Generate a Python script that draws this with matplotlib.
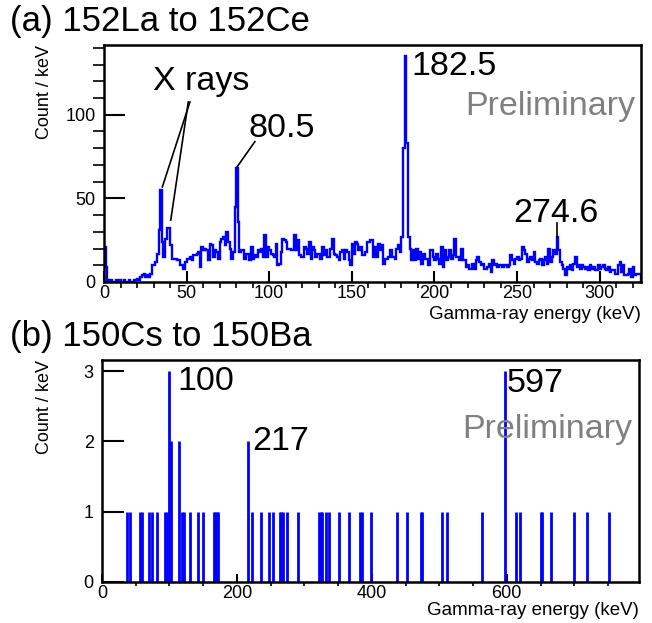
import numpy as np
import matplotlib
matplotlib.use("Agg")
import matplotlib.pyplot as plt
from matplotlib.ticker import MultipleLocator

plt.rcParams["font.family"] = ["Liberation Sans", "DejaVu Sans"]

# (a) 152La -> 152Ce, counts per 1 keV bin starting at 0 keV
bin_width_a = 1.0
counts_a = [
    21, 9, 1, 0, 1, 0, 0, 1, 0, 1, 0, 0, 1, 0, 0, 1, 0, 0, 1, 1,
    2, 1, 3, 4, 5, 3, 4, 3, 5, 10, 10, 12, 17, 31, 55, 24, 15, 26, 32, 32,
    22, 14, 14, 14, 13, 13, 10, 10, 8, 12, 14, 14, 15, 13, 16, 16, 17, 18, 9, 21,
    19, 20, 19, 13, 23, 22, 15, 19, 18, 14, 24, 26, 27, 22, 30, 24, 20, 14, 18, 45,
    68, 36, 18, 19, 19, 14, 17, 17, 13, 21, 14, 16, 15, 19, 18, 20, 15, 28, 15, 21,
    19, 17, 16, 15, 23, 10, 11, 18, 26, 25, 24, 20, 20, 19, 19, 28, 19, 25, 16, 15,
    15, 21, 20, 17, 24, 14, 21, 19, 15, 17, 17, 14, 21, 16, 19, 15, 15, 20, 26, 17,
    16, 15, 13, 18, 19, 14, 19, 18, 13, 10, 23, 17, 24, 23, 19, 21, 16, 16, 18, 24,
    24, 25, 25, 15, 21, 15, 23, 19, 22, 11, 14, 14, 15, 19, 15, 15, 14, 20, 22, 18,
    27, 80, 135, 83, 27, 20, 13, 19, 13, 20, 14, 18, 11, 17, 14, 14, 10, 19, 19, 15,
    13, 17, 14, 11, 21, 9, 19, 13, 15, 19, 14, 16, 26, 15, 15, 13, 20, 13, 13, 9,
    10, 8, 8, 11, 8, 13, 15, 12, 10, 11, 8, 8, 9, 11, 6, 13, 10, 11, 9, 10,
    10, 9, 10, 10, 9, 10, 16, 13, 11, 14, 15, 13, 14, 21, 19, 17, 12, 14, 15, 13,
    18, 12, 11, 13, 14, 10, 13, 15, 11, 20, 12, 15, 19, 17, 27, 19, 12, 10, 8, 4,
    9, 8, 10, 7, 11, 15, 9, 10, 8, 10, 9, 8, 9, 7, 10, 8, 9, 7, 7, 10,
    8, 9, 10, 8, 7, 9, 6, 7, 7, 5, 5, 10, 12, 6, 10, 4, 4, 5, 8, 3,
    9, 4, 5, 5, 5,
]

# (b) 150Cs -> 150Ba, individual counts (keV, counts)
energy_b = [37, 41, 56, 60, 69, 74, 81, 94, 97, 100, 102, 114, 118, 121, 130,
            142, 150, 166, 168, 170, 172, 217, 222, 236, 248, 254, 264, 266,
            269, 274, 290, 322, 324, 326, 332, 336, 352, 366, 383, 386, 398,
            438, 452, 473, 475, 504, 512, 563, 597, 613, 619, 651, 652, 666,
            700, 719, 751]
counts_b = [1, 1, 1, 1, 1, 1, 1, 1, 1, 3, 2, 2, 1, 1, 1,
            1, 1, 1, 1, 1, 1, 2, 1, 1, 1, 1, 1, 1,
            1, 1, 1, 1, 1, 1, 1, 1, 1, 1, 1, 1, 1,
            1, 1, 1, 1, 1, 1, 1, 3, 1, 1, 1, 1, 1,
            1, 1, 1]

W, H = 652, 623
fig = plt.figure(figsize=(W / 100, H / 100), dpi=100)

def px_axes(left, top, right, bottom):
    return fig.add_axes([left / W, 1 - bottom / H, (right - left) / W, (bottom - top) / H])

def root_style(ax, ylen, xlen):
    for s in ax.spines.values():
        s.set_linewidth(1.8)
    ax.tick_params(direction="in", top=False, right=False, labelsize=13, width=1.5)
    ax.tick_params(axis="y", which="major", length=ylen[0], pad=6)
    ax.tick_params(axis="y", which="minor", length=ylen[1], width=1.2)
    ax.tick_params(axis="x", which="major", length=xlen[0], pad=2)
    ax.tick_params(axis="x", which="minor", length=xlen[1], width=1.2)
    ax.set_xlabel("Gamma-ray energy (keV)", fontsize=13.5, loc="right")
    ax.set_ylabel("Count / keV", fontsize=13, loc="top")

big = 24.5

# ---- panel (a)
ax1 = px_axes(104, 45, 641, 282)
edges_a = np.arange(len(counts_a) + 1) * bin_width_a
ax1.stairs(counts_a, edges_a, color="#0000ff", lw=1.7)
ax1.set_xlim(0, 325)
ax1.set_ylim(0, 141.7)
ax1.xaxis.set_major_locator(MultipleLocator(50))
ax1.xaxis.set_minor_locator(MultipleLocator(10))
ax1.yaxis.set_major_locator(MultipleLocator(50))
ax1.yaxis.set_minor_locator(MultipleLocator(10))
root_style(ax1, (15, 8), (8, 4.5))
ax1.xaxis.set_label_coords(1.0, -0.10)
ax1.yaxis.set_label_coords(-0.095, 1.0)

ax1.text(29.8, 114.8, "X rays", fontsize=big, va="baseline")
ax1.plot([52, 35.3], [107.6, 56.8], color="black", lw=1.2)
ax1.plot([51, 40.4], [107.6, 37], color="black", lw=1.2)
ax1.text(87.3, 86.9, "80.5", fontsize=big, va="baseline")
ax1.plot([91.3, 80.6], [83.9, 68.9], color="black", lw=1.2)
ax1.text(186.1, 123.7, "182.5", fontsize=big, va="baseline")
ax1.text(247.4, 36.0, "274.6", fontsize=big, va="baseline")
ax1.plot([274.2, 274.2], [35.5, 27], color="black", lw=1.2)
ax1.text(321.5, 99.8, "Preliminary", fontsize=big, color="#808080",
         va="baseline", ha="right")

# ---- panel (b)
ax2 = px_axes(102, 360, 639, 582)
ax2.vlines(energy_b, 0, counts_b, color="#0000ff", lw=2.0)
ax2.set_xlim(0, 796)
ax2.set_ylim(0, 3.16)
ax2.xaxis.set_major_locator(MultipleLocator(200))
ax2.xaxis.set_minor_locator(MultipleLocator(50))
ax2.yaxis.set_major_locator(MultipleLocator(1))
root_style(ax2, (16, 8), (6, 3))
ax2.xaxis.set_label_coords(1.0, -0.088)
ax2.yaxis.set_label_coords(-0.091, 1.0)

ax2.text(112.4, 2.73, "100", fontsize=big, va="baseline")
ax2.text(222.0, 1.88, "217", fontsize=big, va="baseline")
ax2.text(600.6, 2.70, "597", fontsize=big, va="baseline")
ax2.text(786, 2.05, "Preliminary", fontsize=big, color="#808080",
         va="baseline", ha="right")

fig.text(10 / W, 1 - 31 / H, "(a) 152La to 152Ce", fontsize=25, va="baseline")
fig.text(10 / W, 1 - 346 / H, "(b) 150Cs to 150Ba", fontsize=25, va="baseline")

fig.savefig("out.png", dpi=100)
